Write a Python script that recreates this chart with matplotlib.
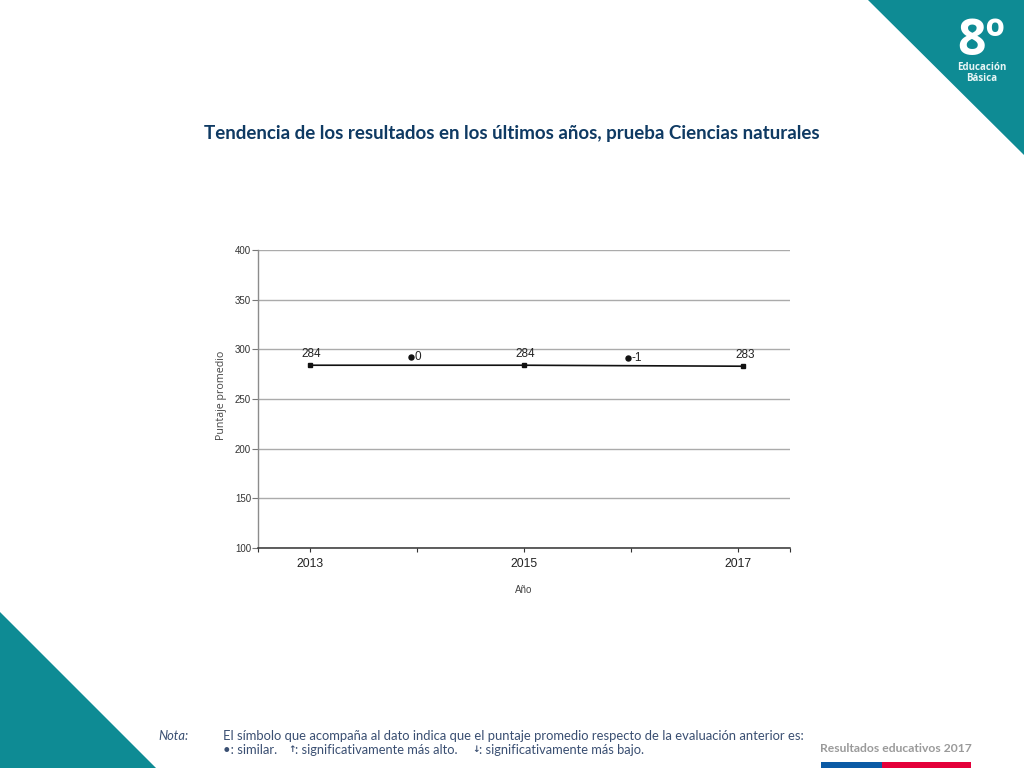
import matplotlib
matplotlib.use("Agg")
import matplotlib.pyplot as plt
from matplotlib.patches import Polygon, Rectangle

# data
years = [2013, 2015, 2017.05]
scores = [284, 284, 283]
score_labels = ["284", "284", "283"]
tick_years = [2013, 2015, 2017]
tick_labels = ["2013", "2015", "2017"]
minor_years = [2012.514, 2014, 2016, 2017.486]
change_years = [2013.94, 2015.97]
change_levels = [292, 291]
change_labels = ["0", "-1"]
y_ticks = [100, 150, 200, 250, 300, 350, 400]

TEAL = "#0e8b94"
NAVY = "#0f3a63"
NOTE = "#3a4f72"
SANS = "Liberation Sans"
W, H = 1024, 768

fig = plt.figure(figsize=(10.24, 7.68), dpi=100, facecolor="white")

# page decoration, in pixel coordinates
bg = fig.add_axes([0, 0, 1, 1])
bg.set_xlim(0, W)
bg.set_ylim(H, 0)
bg.axis("off")
bg.add_patch(Polygon([(868, 0), (1024, 0), (1024, 155)], closed=True, color=TEAL, lw=0))
bg.add_patch(Polygon([(0, 612), (0, 768), (156, 768)], closed=True, color=TEAL, lw=0))
bg.add_patch(Rectangle((821, 762), 61, 6, color="#0b5aa5", lw=0))
bg.add_patch(Rectangle((882, 762), 89, 6, color="#e4003a", lw=0))

bg.text(981, 42, "8º", color="white", fontsize=36, fontweight="bold", family="Open Sans",
        ha="center", va="center")
bg.text(981.5, 67.5, "Educación", color="#e8f6f6", fontsize=7, fontweight="bold", family="Open Sans",
        ha="center", va="center")
bg.text(981.5, 78.5, "Básica", color="#e8f6f6", fontsize=7, fontweight="bold", family="Open Sans",
        ha="center", va="center")

bg.text(512, 134, "Tendencia de los resultados en los últimos años, prueba Ciencias naturales",
        color=NAVY, fontsize=13.5, fontweight="bold", family="Lato", ha="center", va="center")

bg.text(158, 735.5, "Nota:", color=NOTE, fontsize=9.3, style="italic", family="Lato", va="center")
bg.text(223, 735.5, "El símbolo que acompaña al dato indica que el puntaje promedio respecto de la evaluación anterior es:",
        color=NOTE, fontsize=9.4, family="Lato", va="center")
bg.text(223, 749.5, "•: similar.", color=NOTE, fontsize=9.35, family="Lato", va="center")
bg.text(288, 749.5, "↑", color=NOTE, fontsize=6.5, fontweight="bold", family="DejaVu Sans", va="center")
bg.text(295, 749.5, ": significativamente más alto.", color=NOTE, fontsize=9.3, family="Lato", va="center")
bg.text(472, 749.5, "↓", color=NOTE, fontsize=6.5, fontweight="bold", family="DejaVu Sans", va="center")
bg.text(479, 749.5, ": significativamente más bajo.", color=NOTE, fontsize=9.3, family="Lato", va="center")
bg.text(820, 748.5, "Resultados educativos 2017", color="#9a9a9a", fontsize=8.7, fontweight="bold",
        family="Lato", va="center")

# chart
ax = fig.add_axes([258 / W, 1 - 548 / H, 532 / W, 298 / H])
ax.patch.set_alpha(0)
ax.set_xlim(minor_years[0], minor_years[-1])
ax.set_ylim(y_ticks[0], y_ticks[-1])
ax.spines["top"].set_visible(False)
ax.spines["right"].set_visible(False)
ax.spines["left"].set_color("#8c8c8c")
ax.spines["left"].set_linewidth(1.0)
ax.spines["bottom"].set_color("#333333")
ax.spines["bottom"].set_linewidth(1.1)
ax.set_yticks(y_ticks)
ax.set_xticks(tick_years)
ax.set_xticklabels(tick_labels, family=SANS, fontsize=8.8, color="#222222")
ax.set_xticks(minor_years, minor=True)
ax.tick_params(axis="x", which="both", length=3, width=0.8, color="#333333", pad=4.5)
ax.tick_params(axis="y", length=4, width=0.8, color="#777777", pad=1, labelsize=7, labelcolor="#333333")
for t in ax.get_yticklabels():
    t.set_family(SANS)
ax.grid(axis="y", color="#ababab", lw=1.0)
ax.set_axisbelow(True)

ax.plot(years, scores, color="#111111", lw=1.2, marker="s", ms=3.5, clip_on=False, zorder=3)
for x, y, s in zip(years, scores, score_labels):
    ax.annotate(s, (x, y), xytext=(1, 3.5), textcoords="offset points", ha="center", va="bottom",
                family=SANS, fontsize=8.5, color="#222222")
for x, y, s in zip(change_years, change_levels, change_labels):
    ax.plot([x], [y], "o", color="#111111", ms=3.6, zorder=3)
    ax.annotate(s, (x, y), xytext=(2.5, 0), textcoords="offset points", ha="left", va="center",
                family=SANS, fontsize=8.5, color="#222222")

ax.set_xlabel("Año", family=SANS, fontsize=7, color="#444444")
ax.xaxis.set_label_coords(0.5, -0.125)
ax.set_ylabel("Puntaje promedio", family="Open Sans", fontsize=7.7, color="#444444")
ax.yaxis.set_label_coords(-0.058, 0.513)

fig.savefig("out.png", dpi=100, facecolor="white")
